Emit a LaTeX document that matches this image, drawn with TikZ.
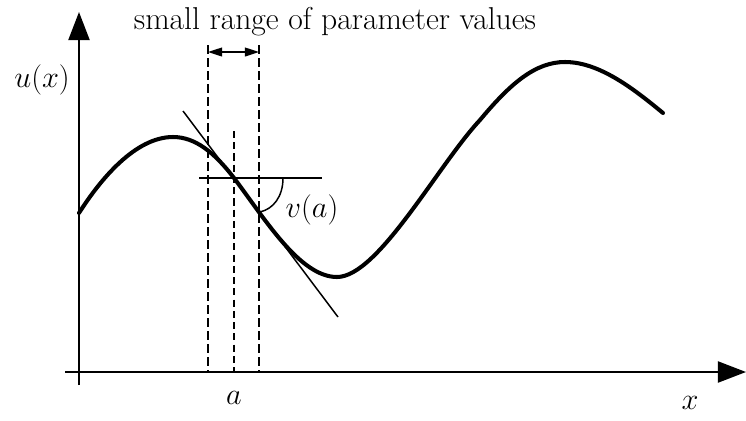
\documentclass[tikz,border=0pt]{standalone}
\usepackage{amsmath}
\usepackage{tikz}
\usetikzlibrary{arrows.meta,positioning,calc}

\begin{document}
\begin{tikzpicture}[
    x=0.02cm, y=-0.02cm,
    axisline/.style={line width=1.1pt, -{Triangle[length=16pt,width=12pt]}},
    fnline/.style={line width=2.3pt, line cap=round},
    thinline/.style={line width=0.85pt},
    guideline/.style={line width=0.8pt, dash pattern=on 5.2pt off 2.2pt},
    rangearr/.style={line width=0.8pt, {Triangle[length=8pt,width=5pt]}-{Triangle[length=8pt,width=5pt]}},
    lbl/.style={font=\fontsize{18}{21}\selectfont, inner sep=0pt},
  ]
  \useasboundingbox (0,0) rectangle (746,420);

  % =================== AXES ===================
  \coordinate (yfoot) at (79,385);
  \coordinate (ytip) at (79,12);
  \coordinate (xfoot) at (65,372);
  \coordinate (xtip) at (746,372);
  \draw[axisline] (yfoot) -- (ytip);
  \draw[axisline] (xfoot) -- (xtip);
  \node[lbl] (ulbl) at (42,80) {$u(x)$};
  \node[lbl] (xlbl) at (690,403) {$x$};

  % =================== CURVE u(x) ===================
  \coordinate (P) at (234,178);
  \draw[fnline] (79,213) .. controls (100,180) and (135,137) .. (173,137)
    .. controls (195,137) and (214,152) .. (P)
    .. controls (265,219) and (300,277) .. (337,277)
    .. controls (378,277) and (438,165) .. (480,120)
    .. controls (510,84) and (535,62) .. (565,62)
    .. controls (600,62) and (635,90) .. (663,113);

  % =================== PARAMETER RANGE ===================
  \coordinate (lo top) at (208,45);
  \coordinate (lo foot) at (208,372);
  \coordinate (hi top) at (259,45);
  \coordinate (hi foot) at (259,372);
  \coordinate (a top) at (234,131);
  \coordinate (a foot) at (234,372);
  \draw[guideline] (lo top) -- (lo foot);
  \draw[guideline] (hi top) -- (hi foot);
  \draw[guideline, dash pattern=on 4pt off 2.4pt] (a top) -- (a foot);
  \coordinate (arr lo) at (208,52);
  \coordinate (arr hi) at (259,52);
  \draw[rangearr] (arr lo) -- (arr hi);
  \node[lbl, anchor=base] (range) at (335,29) {small range of parameter values};
  \node[lbl] (albl) at (234,398) {$a$};

  % =================== TANGENT AND ANGLE ===================
  \coordinate (tan top) at (183,111);
  \coordinate (tan foot) at (338,317);
  \coordinate (hz left) at (199,178);
  \coordinate (hz right) at (322,178);
  \draw[thinline] (tan top) -- (tan foot);
  \draw[thinline] (hz left) -- (hz right);
  \draw[thinline] (283,178) .. controls (283,197) and (273,209) .. (260,212);
  \node[lbl] (vlbl) at (312,210) {$v(a)$};

\end{tikzpicture}
\end{document}
